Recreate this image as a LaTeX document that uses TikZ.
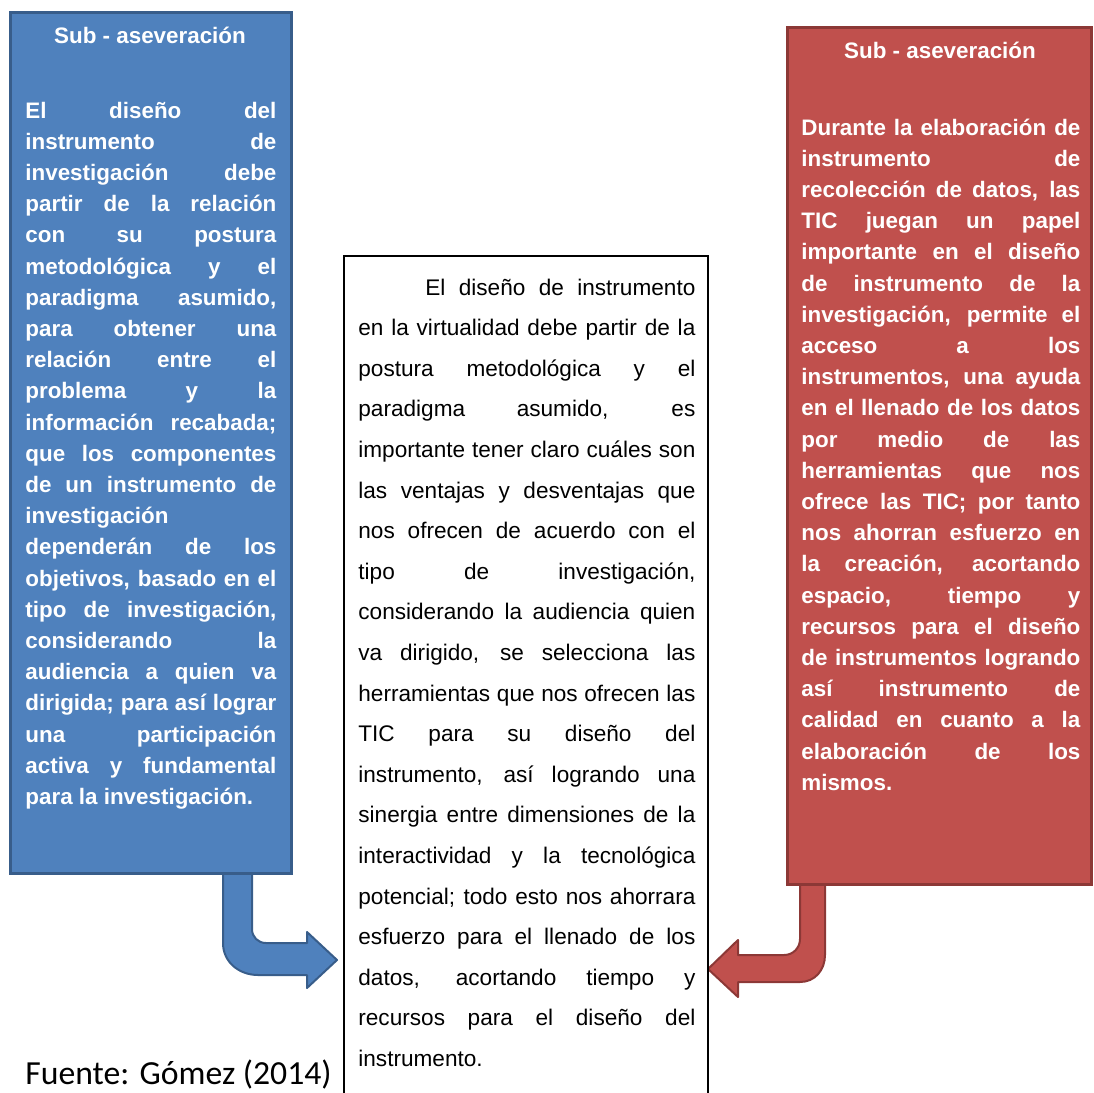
\documentclass[tikz,border=0pt]{standalone}
\usepackage{fontspec}
\setmainfont{Liberation Sans}
\newfontfamily\fuentefont{Carlito}
\definecolor{azul}{HTML}{4F81BD}
\definecolor{azulborde}{HTML}{385D8A}
\definecolor{rojo}{HTML}{C0504D}
\definecolor{rojoborde}{HTML}{8C3836}
\tolerance=10000
\hbadness=10000
\hyphenpenalty=10000
\begin{document}
\begin{tikzpicture}[x=0.5pt,y=-0.5pt,
	lado/.style={anchor=base west,inner sep=0pt,align=justify,text=white,font=\bfseries\fontsize{11.2}{15.6}\selectfont},
	titulo/.style={anchor=base,inner sep=0pt,text=white,font=\bfseries\fontsize{11.2}{15.6}\selectfont},
	centro/.style={anchor=base west,inner sep=0pt,align=justify,text width=168.5pt,font=\fontsize{11.3}{20.3}\selectfont},
	flecha/.style={line width=1pt,line join=round}]
	\useasboundingbox (0,0) rectangle (1094,1093);
	\path
	(10,12) coordinate (A1)
	(291,873) coordinate (A2)
	(787,27) coordinate (R1)
	(1091,884) coordinate (R2)
	(344,256) coordinate (C1)
	(708,256) coordinate (C2)
	;
	% flechas
	\draw[flecha,fill=azul,draw=azulborde]
	(223,868)--(223,943) .. controls (223,962) and (239,975) .. (258,975)
	--(307,975)--(307,988)--(337,960)--(307,932)--(307,943)--(266,943)
	.. controls (258,943) and (252,937) .. (252,929)--(252,868)--cycle;
	\draw[flecha,fill=rojo,draw=rojoborde]
	(825,879)--(825,955) .. controls (825,970) and (815,982) .. (800,982)
	--(738,982)--(738,997)--(708,969)--(738,940)--(738,955)--(784,955)
	.. controls (793,955) and (800,948) .. (800,939)--(800,879)--cycle;
	% cajas
	\draw[line width=1.5pt,fill=azul,draw=azulborde] (A1) rectangle (A2);
	\draw[line width=1.5pt,fill=rojo,draw=rojoborde] (R1) rectangle (R2);
	\draw[line width=0.75pt] (C1|-0,1100)--(C1)--(C2)--(C2|-0,1100);
	% textos
	\node[titulo] (tituloA) at (150,43) {Sub - aseveración};
	\node[titulo] (tituloR) at (940,58) {Sub - aseveración};
	\node[lado,text width=125.5pt] (textoA) at (25,118) {El diseño del\linebreak instrumento de\linebreak investigación debe\linebreak partir de la relación\linebreak con su postura\linebreak metodológica y el\linebreak paradigma asumido,\linebreak para obtener una\linebreak relación entre el\linebreak problema y la\linebreak información recabada;\linebreak que los componentes\linebreak de un instrumento de\linebreak investigación\newline dependerán de los\linebreak objetivos, basado en el\linebreak tipo de investigación,\linebreak considerando la\linebreak audiencia a quien va\linebreak dirigida; para así lograr\linebreak una participación\linebreak activa y fundamental\linebreak para la investigación.};
	\node[lado,text width=139.5pt] (textoR) at (801,135) {Durante la elaboración de\linebreak instrumento de\linebreak recolección de datos, las\linebreak TIC juegan un papel\linebreak importante en el diseño\linebreak de instrumento de la\linebreak investigación, permite el\linebreak acceso a los\linebreak instrumentos, una ayuda\linebreak en el llenado de los datos\linebreak por medio de las\linebreak herramientas que nos\linebreak ofrece las TIC; por tanto\linebreak nos ahorran esfuerzo en\linebreak la creación, acortando\linebreak espacio, tiempo y\linebreak recursos para el diseño\linebreak de instrumentos logrando\linebreak así instrumento de\linebreak calidad en cuanto a la\linebreak elaboración de los\linebreak mismos.};
	\node[centro] (textoC) at (358,295) {\hspace*{33.5pt}El diseño de instrumento\linebreak en la virtualidad debe partir de la\linebreak postura metodológica y el\linebreak paradigma asumido, es\linebreak importante tener claro cuáles son\linebreak las ventajas y desventajas que\linebreak nos ofrecen de acuerdo con el\linebreak tipo de investigación,\linebreak considerando la audiencia quien\linebreak va dirigido, se selecciona las\linebreak herramientas que nos ofrecen las\linebreak TIC para su diseño del\linebreak instrumento, así logrando una\linebreak sinergia entre dimensiones de la\linebreak interactividad y la tecnológica\linebreak potencial; todo esto nos ahorrara\linebreak esfuerzo para el llenado de los\linebreak datos, acortando tiempo y\linebreak recursos para el diseño del\linebreak instrumento.};
	\node[anchor=base west,inner sep=0pt,font=\fuentefont\fontsize{16.85}{20}\selectfont] (fuente) at (25,1084) {Fuente: Gómez (2014)};
\end{tikzpicture}
\end{document}
